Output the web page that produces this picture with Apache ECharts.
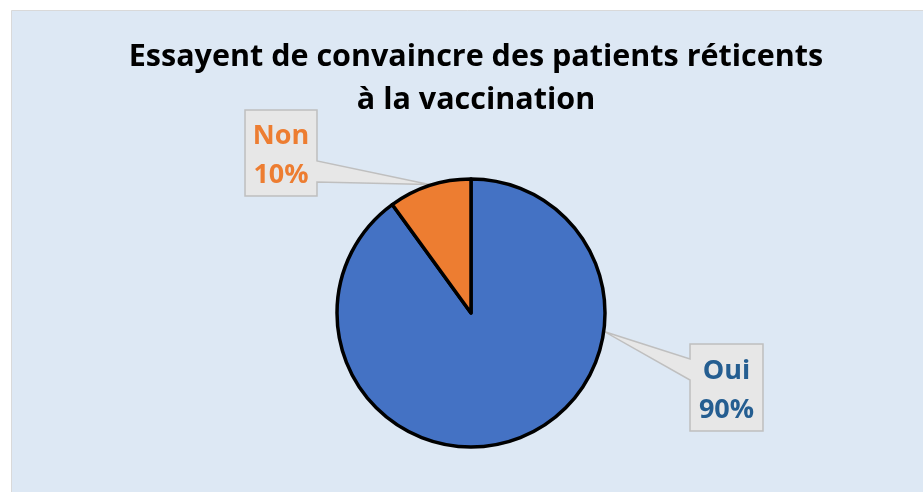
<!DOCTYPE html>
<html>
<head>
<meta charset="utf-8">
<script src="https://cdn.jsdelivr.net/npm/echarts@6/dist/echarts.min.js"></script>
<style>
  html, body { margin: 0; padding: 0; background: #ffffff; }
  #chart { width: 923px; height: 492px; }
</style>
</head>
<body>
<div id="chart"></div>
<script>
// Survey answers and their shares
const categories = ['Oui', 'Non'];
const shares = [90, 10];
const sliceColors = ['#4472C4', '#ED7D31'];
const labelColors = ['#255E91', '#ED7D31'];

// Pie geometry (px)
const pieCenter = [471, 313];
const pieRadius = 134;

// Callout boxes: [left, top, right, bottom], pointer base on the side facing the pie,
// and the angle (degrees clockwise from 12 o'clock) where the pointer touches the pie
const callouts = {
  Non: { box: [245, 110, 317, 196], side: 'right', base: [161, 182], angle: -18 },
  Oui: { box: [690, 344, 763, 431], side: 'left', base: [359, 380], angle: 98 }
};

function calloutShape(c) {
  const [l, t, r, b] = c.box;
  const rad = c.angle * Math.PI / 180;
  const tip = [pieCenter[0] + (pieRadius + 1) * Math.sin(rad), pieCenter[1] - (pieRadius + 1) * Math.cos(rad)];
  if (c.side === 'right') {
    return [[l, t], [r, t], [r, c.base[0]], tip, [r, c.base[1]], [r, b], [l, b]];
  }
  return [[l, t], [r, t], [r, b], [l, b], [l, c.base[1]], tip, [l, c.base[0]], [l, t]];
}

const chart = echarts.init(document.getElementById('chart'), null, { renderer: 'canvas' });

const graphics = [
  {
    type: 'rect',
    z: -10,
    shape: { x: 11.5, y: 10.5, width: 960, height: 520 },
    style: { fill: '#DDE8F4', stroke: '#D9D9D9', lineWidth: 1 }
  }
];
categories.forEach(function (name) {
  graphics.push({
    type: 'polygon',
    z: -5,
    shape: { points: calloutShape(callouts[name]) },
    style: { fill: '#E7E7E7', stroke: '#BFBFBF', lineWidth: 1.5 }
  });
});

chart.setOption({
  backgroundColor: '#ffffff',
  animation: false,
  title: {
    text: 'Essayent de convaincre des patients réticents\nà la vaccination',
    left: 471,
    textAlign: 'center',
    top: 31,
    textStyle: {
      fontFamily: 'Open Sans',
      fontWeight: 'bold',
      fontSize: 30.5,
      lineHeight: 43,
      color: '#000000'
    }
  },
  graphic: graphics,
  series: [{
    type: 'pie',
    center: pieCenter,
    radius: pieRadius,
    startAngle: 90,
    clockwise: true,
    data: categories.map(function (name, i) {
      return {
        name: name,
        value: shares[i],
        itemStyle: { color: sliceColors[i] },
        label: { color: labelColors[i] }
      };
    }),
    itemStyle: { borderColor: '#000000', borderWidth: 3.5 },
    label: {
      show: true,
      formatter: '{b}\n{d}%',
      fontFamily: 'Open Sans',
      fontWeight: 'bold',
      fontSize: 27,
      lineHeight: 39,
      align: 'center',
      verticalAlign: 'middle'
    },
    labelLine: { show: false },
    labelLayout: function (params) {
      const c = callouts[categories[params.dataIndex]];
      return {
        x: (c.box[0] + c.box[2]) / 2,
        y: (c.box[1] + c.box[3]) / 2 + 3,
        align: 'center',
        verticalAlign: 'middle'
      };
    }
  }]
});
</script>
</body>
</html>
